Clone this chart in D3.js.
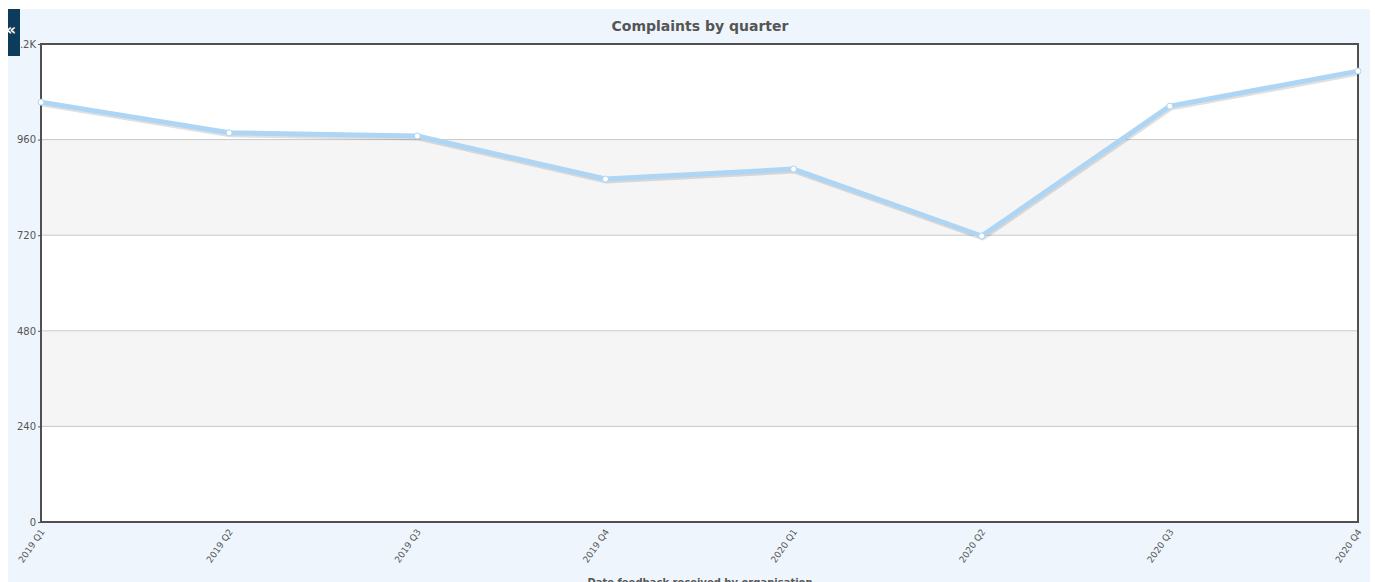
<!DOCTYPE html>
<html lang="en">
<head>
<meta charset="utf-8">
<title>Complaints by quarter</title>
<script src="https://d3js.org/d3.v7.min.js"></script>
<style>
  body { margin: 0; background: #fff; font-family: "DejaVu Sans", Verdana, sans-serif; }
  .tick text { fill: #555; }
</style>
</head>
<body>
<div id="chart"></div>
<script>
  // data
  var quarters = ["2019 Q1", "2019 Q2", "2019 Q3", "2019 Q4", "2020 Q1", "2020 Q2", "2020 Q3", "2020 Q4"];
  var complaints = [1054, 977, 969, 861, 886, 718, 1044, 1132];
  var yTicks = [0, 240, 480, 720, 960, 1200];

  var width = 1375, height = 582;
  var plot = { left: 41, right: 1358, top: 44, bottom: 522 };

  var svg = d3.select("#chart").append("svg")
    .attr("width", width)
    .attr("height", height);

  // panel background
  svg.append("rect")
    .attr("x", 8).attr("y", 9)
    .attr("width", 1362).attr("height", height - 9)
    .attr("fill", "#eef5fd");

  var x = d3.scalePoint()
    .domain(quarters)
    .range([plot.left, plot.right]);

  var y = d3.scaleLinear()
    .domain([0, 1200])
    .range([plot.bottom, plot.top]);

  // plot background + alternating bands
  svg.append("rect")
    .attr("x", plot.left).attr("y", plot.top)
    .attr("width", plot.right - plot.left).attr("height", plot.bottom - plot.top)
    .attr("fill", "#fff");

  var bands = d3.pairs(yTicks).filter(function (d, i) { return i % 2 == 1; });
  svg.append("g").selectAll("rect")
    .data(bands)
    .join("rect")
    .attr("x", plot.left)
    .attr("width", plot.right - plot.left)
    .attr("y", function (d) { return y(d[1]); })
    .attr("height", function (d) { return y(d[0]) - y(d[1]); })
    .attr("fill", "#f5f5f5");

  // gridlines
  svg.append("g").selectAll("line")
    .data(yTicks.slice(1, -1))
    .join("line")
    .attr("x1", plot.left).attr("x2", plot.right)
    .attr("y1", function (d) { return y(d); })
    .attr("y2", function (d) { return y(d); })
    .attr("stroke", "#c8c8c8")
    .attr("stroke-width", 1);

  // y axis
  var yAxis = svg.append("g")
    .attr("transform", "translate(" + plot.left + ",0)")
    .call(d3.axisLeft(y).tickValues(yTicks).tickSize(3).tickPadding(2)
      .tickFormat(function (d) { return d >= 1000 ? (d / 1000) + "K" : d; }))
    .attr("font-family", "DejaVu Sans, Verdana, sans-serif")
    .attr("font-size", 10);
  yAxis.select(".domain").remove();
  yAxis.selectAll(".tick line").attr("stroke", "#555");

  // x axis
  var xAxis = svg.append("g")
    .attr("transform", "translate(0," + plot.bottom + ")")
    .call(d3.axisBottom(x).tickSize(0).tickPadding(0))
    .attr("font-family", "DejaVu Sans, Verdana, sans-serif")
    .attr("font-size", 9);
  xAxis.select(".domain").remove();
  xAxis.selectAll(".tick text")
    .attr("text-anchor", "end")
    .attr("y", 0)
    .attr("dy", "0.35em")
    .attr("transform", "translate(1,8) rotate(-55)");

  // frame
  svg.append("rect")
    .attr("x", plot.left).attr("y", plot.top)
    .attr("width", plot.right - plot.left).attr("height", plot.bottom - plot.top)
    .attr("fill", "none")
    .attr("stroke", "#505050")
    .attr("stroke-width", 2);

  var line = d3.line()
    .x(function (d, i) { return x(quarters[i]); })
    .y(function (d) { return y(d); });

  // shadow then line
  svg.append("path")
    .datum(complaints)
    .attr("d", line)
    .attr("transform", "translate(1,2)")
    .attr("fill", "none")
    .attr("stroke", "rgba(0,0,0,0.12)")
    .attr("stroke-width", 5)
    .attr("stroke-linejoin", "round");

  svg.append("path")
    .datum(complaints)
    .attr("d", line)
    .attr("fill", "none")
    .attr("stroke", "#aed5f3")
    .attr("stroke-width", 5)
    .attr("stroke-linejoin", "round");

  svg.append("g").selectAll("circle")
    .data(complaints)
    .join("circle")
    .attr("cx", function (d, i) { return x(quarters[i]); })
    .attr("cy", function (d) { return y(d); })
    .attr("r", 3)
    .attr("fill", "#fff")
    .attr("stroke", "#aed5f3")
    .attr("stroke-width", 1);

  // titles
  svg.append("text")
    .attr("x", 700).attr("y", 31)
    .attr("text-anchor", "middle")
    .attr("font-size", 14)
    .attr("font-weight", "bold")
    .attr("fill", "#555")
    .text("Complaints by quarter");

  svg.append("text")
    .attr("x", 700).attr("y", 586)
    .attr("text-anchor", "middle")
    .attr("font-size", 10)
    .attr("font-weight", "bold")
    .attr("fill", "#555")
    .text("Date feedback received by organisation");

  // collapse tab
  svg.append("rect")
    .attr("x", 8).attr("y", 9)
    .attr("width", 12).attr("height", 47)
    .attr("fill", "#0d3b5c");
  svg.append("text")
    .attr("x", 16).attr("y", 35)
    .attr("text-anchor", "end")
    .attr("font-size", 16)
    .attr("font-weight", "bold")
    .attr("fill", "#fff")
    .text("«");
</script>
</body>
</html>
